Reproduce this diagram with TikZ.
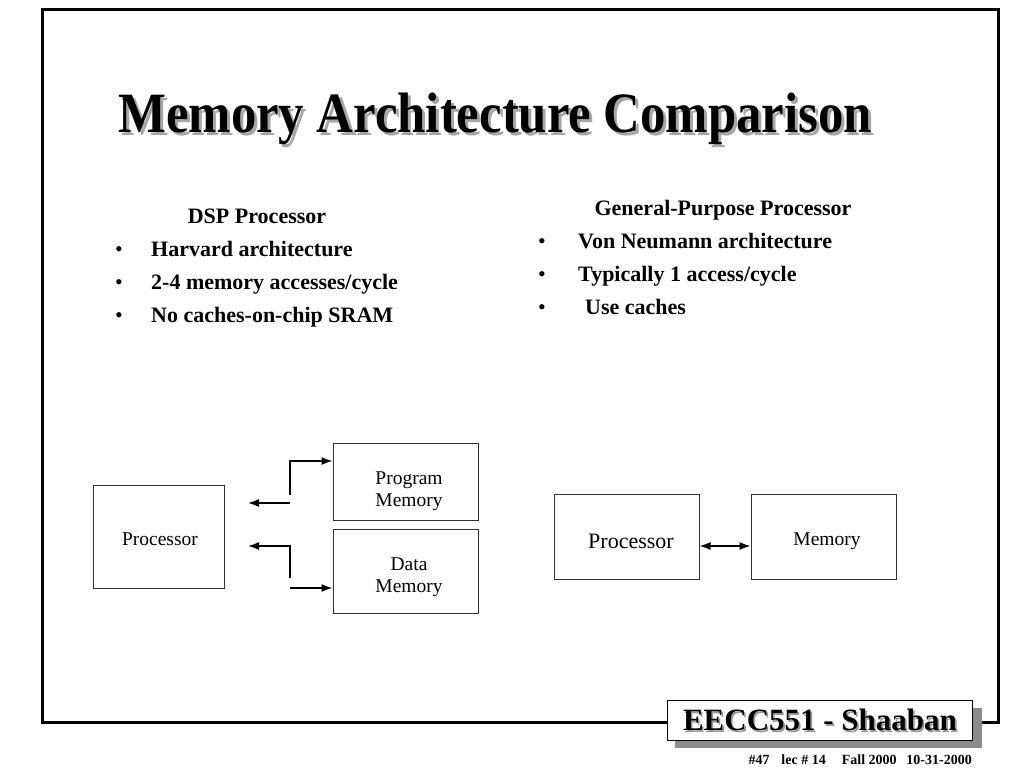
\documentclass[tikz,border=0pt]{standalone}
\usepackage{fontspec}
\setmainfont{Liberation Serif}
\usetikzlibrary{arrows.meta}
\newcommand{\titletext}{Memory Architecture Comparison}
\newcommand{\boxtext}{EECC551 - Shaaban}
\begin{document}
\begin{tikzpicture}[x=1pt,y=-1pt,
  box/.style={draw=black!80,line width=1pt,fill=white,inner sep=0pt},
  lbl/.style={font=\fontsize{19.5}{22}\selectfont,align=center,inner sep=0pt},
  txt/.style={font=\bfseries\fontsize{22}{24}\selectfont,anchor=base west,inner sep=0pt},
  bul/.style={font=\fontsize{22}{24}\selectfont,anchor=base west,inner sep=0pt},
  tip/.style={-{Latex[length=11pt,width=8pt]}},
  arr/.style={line width=1.5pt,tip},
  darr/.style={line width=1.5pt,{Latex[length=11pt,width=8pt]}-{Latex[length=11pt,width=8pt]}},
  ln/.style={line width=1.5pt}]
\useasboundingbox (0,0) rectangle (1024,768);
\fill[white] (0,0) rectangle (1024,768);
% frame
\draw[line width=3pt] (42,10) rectangle (998,722);
% title with shadow
\node (title) [inner sep=0pt,anchor=base] at (495,132) {\scalebox{0.89}[1]{\bfseries\fontsize{57}{60}\selectfont\rlap{\hspace{3.4pt}\raisebox{-3pt}{\color{black!35}\titletext}}\titletext}};
% left column
\node (dsp) [txt,anchor=base] at (257,223) {DSP Processor};
\node (b1) [bul] at (115,256) {•};
\node (t1) [txt] at (151,256) {Harvard architecture};
\node (b2) [bul] at (115,289) {•};
\node (t2) [txt] at (151,289) {2-4 memory accesses/cycle};
\node (b3) [bul] at (115,322) {•};
\node (t3) [txt] at (151,322) {No caches-on-chip SRAM};
% right column
\node (gpp) [txt,anchor=base] at (723,215) {General-Purpose Processor};
\node (c1) [bul] at (538,248) {•};
\node (u1) [txt] at (578,248) {Von Neumann architecture};
\node (c2) [bul] at (538,281) {•};
\node (u2) [txt] at (578,281) {Typically 1 access/cycle};
\node (c3) [bul] at (538,314) {•};
\node (u3) [txt] at (585,314) {Use caches};
% left diagram
\node (proc) [box,minimum width=131pt,minimum height=103pt] at (158.5,537) {};
\node [lbl,anchor=base] at (160,545) {Processor};
\node (pm) [box,minimum width=145pt,minimum height=77pt] at (405.5,481.5) {};
\node [lbl] at (409,491) {Program\\Memory};
\node (dm) [box,minimum width=145pt,minimum height=84pt] at (405.5,571) {};
\node [lbl] at (409,577) {Data\\Memory};
\coordinate (a1) at (290,495);
\coordinate (a2) at (290,503);
\coordinate (a3) at (248,503);
\coordinate (a4) at (290,546);
\coordinate (a5) at (248,546);
\coordinate (a6) at (290,578);
\coordinate (a7) at (290,588);
\draw[arr] (a1) |- (pm.west |- 0,461);
\draw[arr] (a2) -- (a3);
\draw[arr] (a6) -- (a4) -- (a5);
\draw[arr] (a7) -- (dm.west |- a7);
% right diagram
\node (proc2) [box,minimum width=145pt,minimum height=85pt] at (626.5,537) {};
\node [font=\fontsize{22}{24}\selectfont,inner sep=0pt,anchor=base] at (631,548) {Processor};
\node (mem) [box,minimum width=145pt,minimum height=85pt] at (823.5,537) {};
\node [lbl,anchor=base] at (827,545) {Memory};
\draw[darr] (proc2.east |- 0,546) -- (mem.west |- 0,546);
% footer box
\fill[black!45] (675,708) rectangle (982,748);
\node (eecc) [draw=black,line width=1pt,fill=white,minimum width=305pt,minimum height=40pt,inner sep=0pt] at (819.5,720) {};
\node (eecct) [inner sep=0pt] at (820,721) {\bfseries\fontsize{31}{33}\selectfont\rlap{\hspace{1.6pt}\raisebox{-1.6pt}{\color{black!40}\boxtext}}\boxtext};
\node (foot) [inner sep=0pt,anchor=base east] at (972,764) {\bfseries\fontsize{14}{16}\selectfont \#47\hspace{0.85em}lec \# 14\hspace{1.15em}Fall 2000\hspace{0.7em}10-31-2000};
\end{tikzpicture}
\end{document}
